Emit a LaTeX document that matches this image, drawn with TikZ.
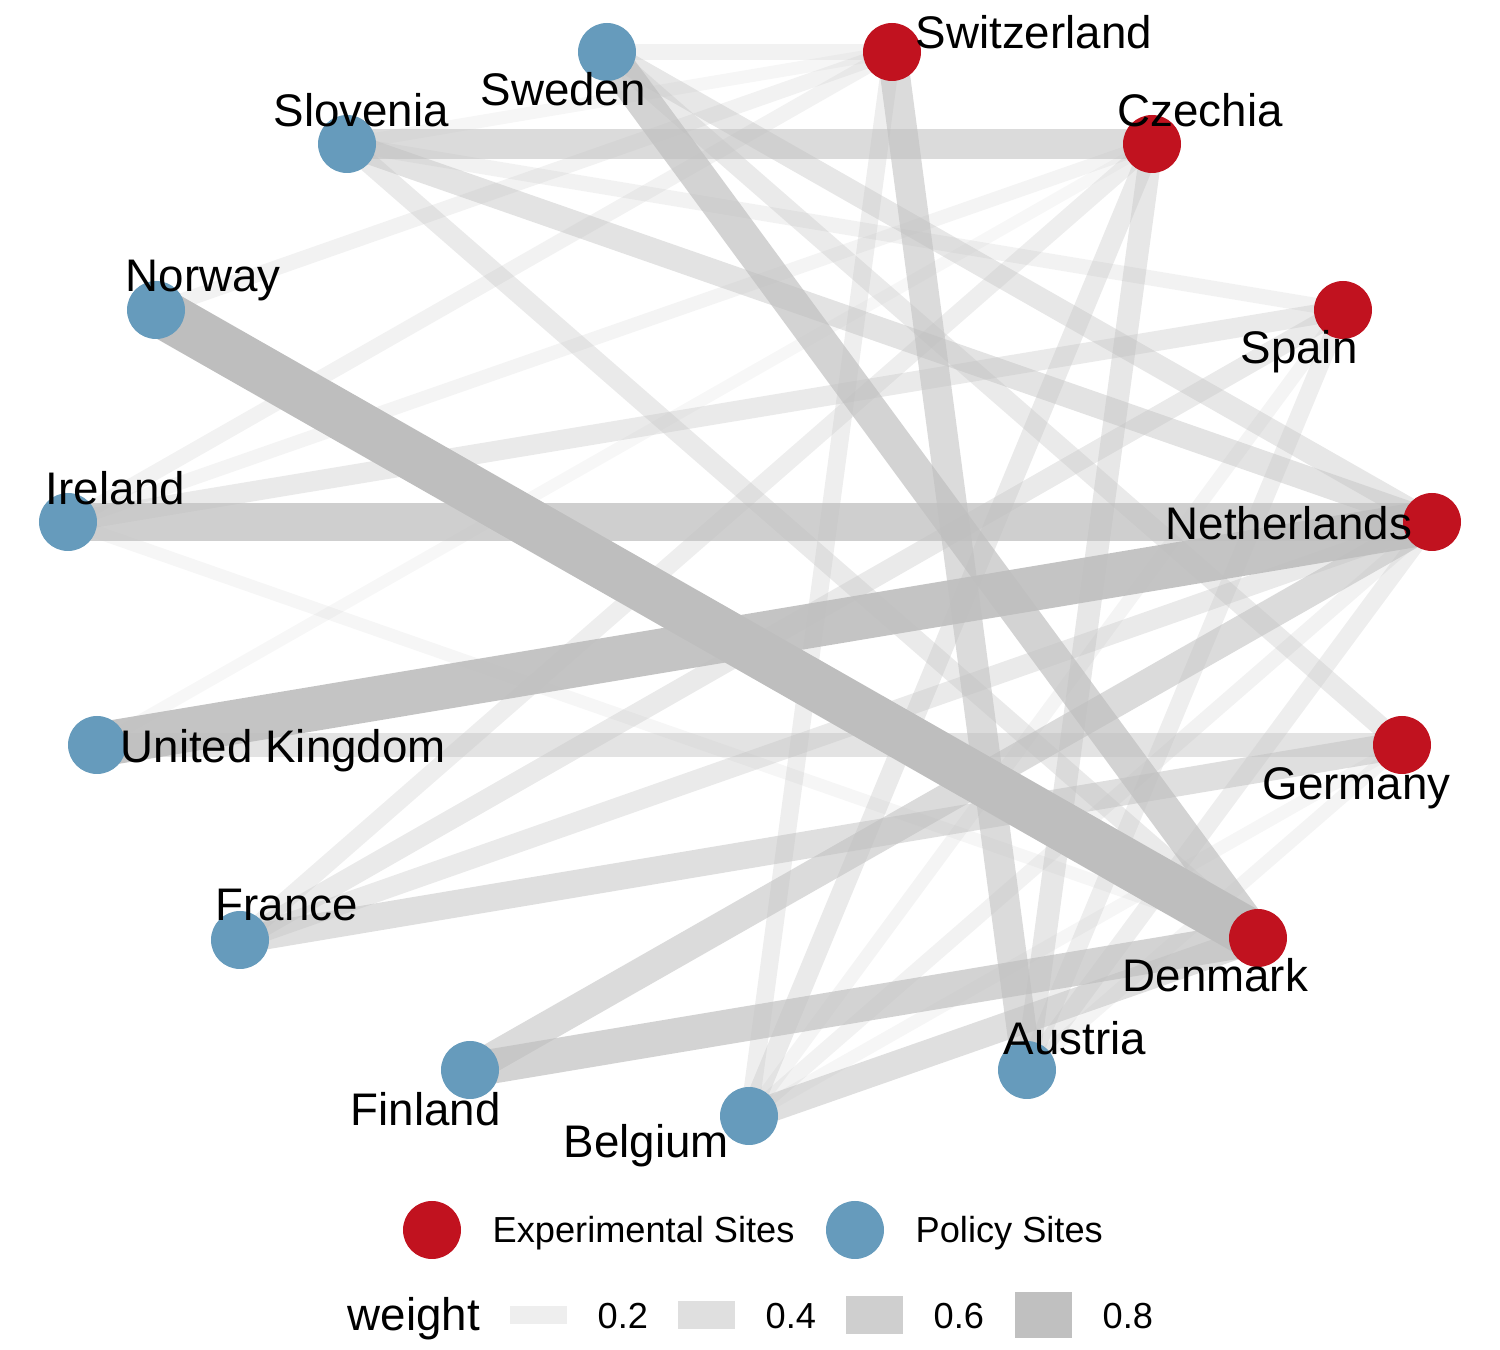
\documentclass[tikz,border=0pt]{standalone}
\usepackage{fontspec}
\setmainfont{Liberation Sans}
\usetikzlibrary{backgrounds}

\definecolor{expred}{HTML}{C1121F}
\definecolor{polblue}{HTML}{669BBC}
\definecolor{edgegray}{HTML}{BEBEBE}

\tikzset{
  site/.style={circle,inner sep=0pt,minimum size=0.58cm},
  expsite/.style={site,fill=expred},
  polsite/.style={site,fill=polblue},
  country/.style={anchor=base west,inner sep=0pt,font=\fontsize{13}{15}\selectfont},
  legtext/.style={anchor=base west,inner sep=0pt,font=\fontsize{10.3}{12}\selectfont}
}

\begin{document}
\begin{tikzpicture}
\useasboundingbox (0,0) rectangle (15,13.5);

% sites
\node[polsite] (swe) at (6.07,12.98) {};
\node[expsite] (swi) at (8.92,12.98) {};
\node[polsite] (slo) at (3.47,12.06) {};
\node[expsite] (cze) at (11.52,12.06) {};
\node[polsite] (nor) at (1.56,10.40) {};
\node[expsite] (spa) at (13.43,10.40) {};
\node[polsite] (ire) at (0.68,8.28) {};
\node[expsite] (net) at (14.32,8.28) {};
\node[polsite] (uk) at (0.97,6.05) {};
\node[expsite] (ger) at (14.02,6.05) {};
\node[polsite] (fra) at (2.40,4.10) {};
\node[expsite] (den) at (12.58,4.12) {};
\node[polsite] (fin) at (4.70,2.80) {};
\node[polsite] (aut) at (10.27,2.80) {};
\node[polsite] (bel) at (7.49,2.34) {};

% weighted links
\begin{pgfonlayer}{background}
\foreach \a/\b/\w in {nor/den/0.85, uk/net/0.75, ire/net/0.6, swe/den/0.55,
    fin/den/0.55, fin/net/0.45, slo/cze/0.45, aut/swi/0.45, bel/den/0.4,
    fra/ger/0.4, slo/net/0.35, uk/ger/0.35, swe/net/0.3, aut/cze/0.3,
    swe/ger/0.25, slo/den/0.25, ire/spa/0.25, fra/spa/0.25, fra/net/0.25,
    bel/cze/0.25, fra/cze/0.2, bel/swi/0.2, aut/spa/0.2, aut/net/0.2,
    swe/swi/0.15, slo/spa/0.15, nor/swi/0.15, ire/swi/0.15, bel/net/0.15,
    ire/cze/0.12, bel/spa/0.12, aut/ger/0.12, slo/swi/0.1, ire/den/0.1,
    bel/ger/0.1, uk/cze/0.08} {
  \pgfmathsetmacro\lw{0.08+0.485*\w}
  \pgfmathsetmacro\op{min(1,1.18*\w+0.024)}
  \draw[edgegray,line width=\lw cm,draw opacity=\op] (\a.center) -- (\b.center);
}
\end{pgfonlayer}

% labels
\node[country] (swi-l) at (9.15,13.01) {Switzerland};
\node[country] (swe-l) at (4.80,12.44) {Sweden};
\node[country] (slo-l) at (2.73,12.23) {Slovenia};
\node[country] (cze-l) at (11.17,12.23) {Czechia};
\node[country] (nor-l) at (1.25,10.58) {Norway};
\node[country] (spa-l) at (12.40,9.86) {Spain};
\node[country] (ire-l) at (0.45,8.45) {Ireland};
\node[country] (net-l) at (11.65,8.10) {Netherlands};
\node[country] (uk-l) at (1.20,5.87) {United Kingdom};
\node[country] (ger-l) at (12.62,5.50) {Germany};
\node[country] (fra-l) at (2.15,4.29) {France};
\node[country] (den-l) at (11.22,3.58) {Denmark};
\node[country] (aut-l) at (10.03,2.95) {Austria};
\node[country] (fin-l) at (3.50,2.25) {Finland};
\node[country] (bel-l) at (5.63,1.93) {Belgium};

% legend
\node[expsite] (key-exp) at (4.32,1.20) {};
\node[legtext] (txt-exp) at (4.92,1.07) {Experimental Sites};
\node[polsite] (key-pol) at (8.55,1.20) {};
\node[legtext] (txt-pol) at (9.15,1.07) {Policy Sites};
\node[country] (wlab) at (3.47,0.19) {weight};
\foreach \x/\w in {5.10/0.2, 6.78/0.4, 8.46/0.6, 10.15/0.8} {
  \pgfmathsetmacro\lw{0.08+0.485*\w}
  \pgfmathsetmacro\op{min(1,1.18*\w+0.024)}
  \fill[edgegray,fill opacity=\op] (\x,0.35-\lw/2) rectangle (\x+0.57,0.35+\lw/2);
  \node[legtext] at (\x+0.87,0.22) {\w};
}

\end{tikzpicture}
\end{document}
